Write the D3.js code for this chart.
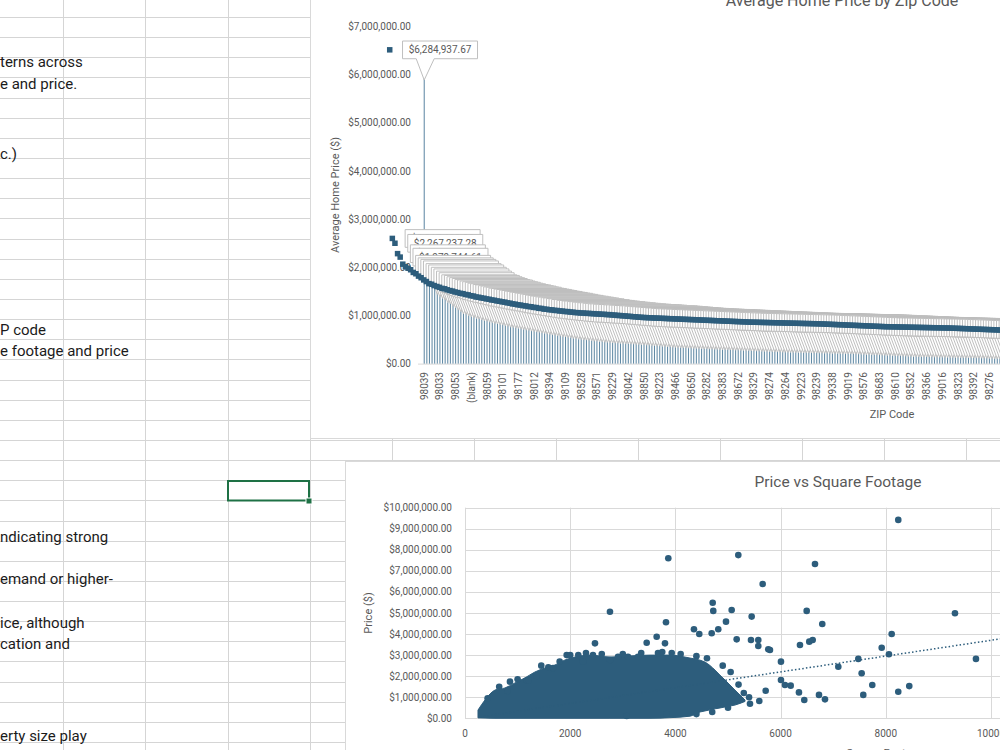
<!DOCTYPE html>
<html>
<head>
<meta charset="utf-8">
<script src="https://cdn.jsdelivr.net/npm/d3@7"></script>
<style>
  body { margin: 0; background: #fff; }
  svg { display: block; font-family: Roboto, "Liberation Sans", sans-serif; }
</style>
</head>
<body>
<div id="sheet"></div>
<script>
// ---- data ----
// worksheet text (left part of the cells is scrolled out of view)
const noteLines = ["terns across", "e and price.", "c.)", "P code", "e footage and price",
    "ndicating strong", "emand or higher-", "ice, although", "cation and", "erty size play"];

// chart 1: average price per ZIP, sorted descending; axis shows every 6th ZIP
const zipLabels = ["98039", "98033", "98053", "(blank)", "98059", "98101", "98177", "98012", "98394",
    "98109", "98528", "98571", "98229", "98042", "98850", "98223", "98466", "98650", "98282", "98383",
    "98672", "98329", "98274", "98264", "99223", "98239", "99338", "99019", "98576", "98683", "98610",
    "98532", "98366", "99016", "98323", "98392", "98276"];
const avgPrice = [6284937.67, 2367420, 2267237.28, 2051388, 1979744.61, 1832560, 1781211, 1749302, 1716845, 1661120,
    1633488, 1584933, 1551207, 1505630, 1471921, 1428775, 1416003, 1388563, 1369240, 1352118,
    1329906, 1321064, 1300118, 1284451, 1273388, 1254721, 1243097, 1226815, 1219544, 1203228,
    1194874, 1177655, 1170303, 1150876, 1145210, 1131659, 1124947, 1110504, 1103266, 1088819,
    1083034, 1068612, 1062459, 1049288, 1043932, 1028775, 1022146, 1007388, 1001573, 988113,
    983241, 970866, 965019, 952771, 948210, 935552, 930905, 916347, 912816, 899267,
    896310, 885606, 883127, 872933, 870201, 860745, 858320, 849045, 847278, 837914,
    836052, 826418, 825367, 818144, 817903, 811570, 811234, 804947, 804612, 798188,
    797842, 791557, 791233, 784945, 784319, 776905, 775317, 767887, 766403, 758918,
    757502, 749986, 748612, 741109, 739675, 732242, 730831, 724406, 723518, 719149,
    718860, 714233, 713905, 709388, 709128, 704690, 704215, 699958, 699524, 695208,
    694884, 690446, 690102, 685734, 685420, 681019, 680730, 676265, 675991, 671655,
    671229, 666917, 666503, 662241, 661838, 657512, 657204, 652841, 652527, 648180,
    647860, 643506, 643188, 638848, 638521, 634190, 633875, 629513, 629203, 626851,
    626520, 624107, 623791, 621431, 621058, 618712, 618356, 615990, 615627, 613282,
    612905, 610548, 610187, 607826, 607467, 605102, 604748, 602384, 602025, 599669,
    599302, 596945, 596582, 594220, 593854, 590469, 590121, 585779, 585416, 581068,
    580702, 576359, 576012, 571650, 571298, 566948, 566591, 562236, 561881, 557523,
    557169, 552815, 552458, 548102, 547751, 543397, 543038, 538684, 538330, 533976,
    533821, 531663, 531507, 529348, 529193, 527035, 526879, 524721, 524566, 522407,
    522252, 520094, 519938, 517780, 517625, 515466, 515311, 513153, 512998, 510839,
    510684, 508526, 508370, 506212, 506057, 503898, 501740, 499582, 497423, 495265,
    493107, 490948, 488790, 486632, 484474, 482315, 480157, 477999, 475840, 473682,
    471524, 469365, 467207, 465049, 462890, 460732];
const priceTicks1 = [0, 1e6, 2e6, 3e6, 4e6, 5e6, 6e6, 7e6];

// chart 2: price vs square footage
// the saturated core of the cloud (thousands of overlapping dots): sqft, lowest and highest price
const coreSqft = [247, 380, 570, 760, 950, 1141, 1331, 1521, 1711, 1901, 2091, 2376, 2756, 3137,
    3517, 3897, 4277, 4468, 4562, 4753, 4848, 4943, 5133, 5323];
const coreLow = [20000, 10000, 0, 0, 0, 0, 0, 0, 0, 0, 0, 0, 0, 0,
    0, 30000, 100000, 300000, 350000, 450000, 490000, 540000, 630000, 800000];
const coreHigh = [390000, 870000, 1340000, 1440000, 1680000, 1920000, 2200000, 2390000, 2530000, 2770000, 2910000, 3000000, 2910000, 2960000,
    3000000, 3000000, 2860000, 2760000, 2670000, 2290000, 2050000, 1820000, 1340000, 870000];
// individual dots outside the core
const dotSqft = [811, 855, 1173, 1210, 1363, 1584, 1673, 1933, 2154, 2243, 2433, 2471, 2756, 2756, 2909,
    3099, 3289, 3454, 3644, 3669, 3802, 3821, 3865, 3930, 3074, 3834,
    5196, 6654, 8237, 5659, 4709, 4720, 5070, 5450, 6496, 6792, 4962, 4815, 4353, 4454, 4690,
    5165, 5437, 5576, 5576, 5766, 5798, 6368, 6545, 6610, 8112, 9315, 7922, 8060, 7477, 9714,
    7097, 7541, 6007, 6007, 6083, 6192, 6349, 6450, 6730, 6844, 7743, 7572, 8237, 8446, 5716, 5595, 5418,
    430, 650, 1000, 1450, 1800, 2000, 2300, 2600, 3000, 3350, 3750, 4100, 4400, 4600, 4900, 5050,
    5200, 5300, 5400, 4700, 5000, 4400];
const dotPrice = [1300000, 1740000, 1790000, 1800000, 2010000, 2420000, 2390000, 3000000, 3000000, 2690000, 3000000, 3560000, 5060000, 2770000, 2920000,
    2920000, 2920000, 3590000, 3870000, 3100000, 3560000, 4560000, 7600000, 3100000, 110000, 200000,
    7750000, 7330000, 9420000, 6380000, 5490000, 5100000, 5140000, 4830000, 5100000, 4480000, 4590000, 4230000, 4230000, 4000000, 4040000,
    3750000, 3720000, 3720000, 3430000, 3280000, 3240000, 3480000, 3640000, 3720000, 4000000, 4990000, 3350000, 3040000, 2820000, 2820000,
    2450000, 2140000, 2690000, 1820000, 1580000, 1550000, 1230000, 870000, 1110000, 900000, 1580000, 1110000, 1260000, 1530000, 1310000, 820000, 690000,
    950000, 1500000, 1850000, 2500000, 2700000, 3000000, 3100000, 3050000, 3050000, 3100000, 3150000, 3050000, 2950000, 2850000, 2500000, 2200000,
    1600000, 1200000, 1000000, 300000, 500000, 200000];
// linear trendline
const trendSlope = 375, trendIntercept = -46000, trendFrom = 290, trendTo = 13540;
const priceTicks2 = d3.range(0, 1e7 + 1, 1e6);
const sqftTicks = [0, 2000, 4000, 6000, 8000, 10000, 12000];

// ---- layout ----
const W = 1000, H = 750;
const GRID = '#d5d5d5';
const BORDER = '#d9d9d9';
const AXIS_TEXT = '#595959';
const BLUE = '#2d5d7c';
const BAR_BLUE = '#3a6d8f';
const colX = d3.range(12).map(k => 63.3 + 82.1 * k);
const rowY = d3.range(38).map(k => 17 + 20.14 * k);
const noteY = [62, 83.5, 154, 330, 351, 537, 579, 622.5, 644, 736];

const svg = d3.select("#sheet").append("svg")
    .attr("width", W)
    .attr("height", H);

// worksheet grid
svg.append("g").selectAll("line").data(rowY).enter().append("line")
    .attr("x1", 0).attr("x2", W)
    .attr("y1", d => Math.round(d) + 0.5).attr("y2", d => Math.round(d) + 0.5)
    .attr("stroke", GRID);
svg.append("g").selectAll("line").data(colX).enter().append("line")
    .attr("x1", d => Math.round(d) + 0.5).attr("x2", d => Math.round(d) + 0.5)
    .attr("y1", 0).attr("y2", H)
    .attr("stroke", GRID);

svg.append("g").selectAll("text").data(noteLines).enter().append("text")
    .attr("x", 0)
    .attr("y", (d, i) => noteY[i] + 5.2)
    .style("font-size", "15px")
    .style("fill", "#1b1b1b")
    .text(d => d);

// selected cell
svg.append("rect")
    .attr("x", 228).attr("y", 481)
    .attr("width", 81).attr("height", 19.5)
    .attr("fill", "none").attr("stroke", "#1e7145").attr("stroke-width", 2);
svg.append("rect")
    .attr("x", 306).attr("y", 498)
    .attr("width", 6).attr("height", 6)
    .attr("fill", "#1e7145").attr("stroke", "#fff").attr("stroke-width", 1);

// ================= chart 1: Average Home Price by Zip Code =================
svg.append("rect")
    .attr("x", 310.5).attr("y", -5)
    .attr("width", 720).attr("height", 443.5)
    .attr("fill", "#fff").attr("stroke", BORDER);

let c1 = svg.append("g");
const step1 = 2.61;
let x1 = d3.scaleBand()
    .domain(d3.range(avgPrice.length))
    .range([425 - step1 / 2, 425 - step1 / 2 + step1 * avgPrice.length])
    .paddingInner(0.6);
let y1 = d3.scaleLinear()
    .domain([0, 7e6])
    .range([363.6, 26.6]);
const cx1 = i => x1(i) + x1.bandwidth() / 2;

c1.append("text")
    .attr("x", 842).attr("y", 6)
    .style("text-anchor", "middle")
    .style("font-size", "16px")
    .style("fill", AXIS_TEXT)
    .text("Average Home Price by Zip Code");

c1.append("g").selectAll("text").data(priceTicks1).enter().append("text")
    .attr("x", 411)
    .attr("y", d => y1(d))
    .attr("dy", "0.35em")
    .style("text-anchor", "end")
    .style("font-size", "10px")
    .style("fill", AXIS_TEXT)
    .text(d => d3.format("$,.2f")(d));

c1.append("text")
    .attr("transform", `translate(335, 195) rotate(-90)`)
    .attr("dy", "0.35em")
    .style("text-anchor", "middle")
    .style("font-size", "11px")
    .style("fill", AXIS_TEXT)
    .text("Average Home Price ($)");

c1.append("line")
    .attr("x1", 418).attr("x2", W)
    .attr("y1", y1(0) + 0.5).attr("y2", y1(0) + 0.5)
    .attr("stroke", BORDER);

c1.append("g").selectAll("rect").data(avgPrice).enter().append("rect")
    .attr("x", (d, i) => x1(i))
    .attr("width", x1.bandwidth())
    .attr("y", d => y1(d))
    .attr("height", d => y1(0) - y1(d))
    .attr("fill", BAR_BLUE)
    .attr("opacity", 0.8);

// data callouts with legend keys
let callouts = c1.append("g").selectAll("g").data(avgPrice).enter().append("g");
callouts.append("path")
    .attr("d", (d, i) => {
        let cx = cx1(i), vy = y1(d);
        let L = cx - 21.7, R = cx + 53.3, T = vy - 20, B = vy - 2.3;
        return `M${L},${T}H${R}V${B}H${cx + 10}L${cx},${vy + 19}L${cx - 8},${B}H${L}Z`;
    })
    .attr("fill", "#fff")
    .attr("stroke", "#bfbfbf")
    .attr("stroke-width", 1);
callouts.append("text")
    .attr("x", (d, i) => cx1(i) + 15.8)
    .attr("y", d => y1(d) - 11.2)
    .attr("dy", "0.35em")
    .style("text-anchor", "middle")
    .style("font-size", "10px")
    .style("fill", AXIS_TEXT)
    .text(d => d3.format("$,.2f")(d));
callouts.append("rect")
    .attr("x", (d, i) => cx1(i) - 21.7 - 12.8 - 2.75)
    .attr("y", d => y1(d) - 11.2 - 2.75)
    .attr("width", 5.5).attr("height", 5.5)
    .attr("fill", BLUE);

c1.append("g").selectAll("text").data(zipLabels).enter().append("text")
    .attr("transform", (d, k) => `translate(${cx1(k * 6)}, 372) rotate(-90)`)
    .attr("dy", "0.35em")
    .style("text-anchor", "end")
    .style("font-size", "10px")
    .style("fill", AXIS_TEXT)
    .text(d => d);

c1.append("text")
    .attr("x", 892).attr("y", 414)
    .attr("dy", "0.35em")
    .style("text-anchor", "middle")
    .style("font-size", "11px")
    .style("fill", AXIS_TEXT)
    .text("ZIP Code");

// ================= chart 2: Price vs Square Footage =================
svg.append("rect")
    .attr("x", 345.5).attr("y", 461.5)
    .attr("width", 700).attr("height", 320)
    .attr("fill", "#fff").attr("stroke", BORDER);

let c2 = svg.append("g");
let x2 = d3.scaleLinear()
    .domain([0, 12000])
    .range([465, 465 + 526 * 1.2]);
let y2 = d3.scaleLinear()
    .domain([0, 1e7])
    .range([718.3, 507.7]);

c2.append("text")
    .attr("x", 838).attr("y", 482)
    .attr("dy", "0.35em")
    .style("text-anchor", "middle")
    .style("font-size", "15.5px")
    .style("fill", AXIS_TEXT)
    .text("Price vs Square Footage");

c2.append("g").selectAll("line").data(priceTicks2).enter().append("line")
    .attr("x1", x2(0)).attr("x2", x2(12000))
    .attr("y1", d => Math.round(y2(d)) + 0.5).attr("y2", d => Math.round(y2(d)) + 0.5)
    .attr("stroke", BORDER);
c2.append("g").selectAll("line").data(sqftTicks).enter().append("line")
    .attr("x1", d => Math.round(x2(d)) + 0.5).attr("x2", d => Math.round(x2(d)) + 0.5)
    .attr("y1", y2(1e7)).attr("y2", y2(0))
    .attr("stroke", BORDER);

c2.append("g").selectAll("text").data(priceTicks2).enter().append("text")
    .attr("x", 452)
    .attr("y", d => y2(d))
    .attr("dy", "0.35em")
    .style("text-anchor", "end")
    .style("font-size", "10px")
    .style("fill", AXIS_TEXT)
    .text(d => d3.format("$,.2f")(d));
c2.append("g").selectAll("text").data(sqftTicks).enter().append("text")
    .attr("x", d => x2(d))
    .attr("y", 733.5)
    .attr("dy", "0.35em")
    .style("text-anchor", "middle")
    .style("font-size", "10px")
    .style("fill", AXIS_TEXT)
    .text(d => d);

c2.append("text")
    .attr("transform", `translate(368, 613) rotate(-90)`)
    .attr("dy", "0.35em")
    .style("text-anchor", "middle")
    .style("font-size", "11px")
    .style("fill", AXIS_TEXT)
    .text("Price ($)");
c2.append("text")
    .attr("x", 885).attr("y", 753)
    .attr("dy", "0.35em")
    .style("text-anchor", "middle")
    .style("font-size", "11px")
    .style("fill", AXIS_TEXT)
    .text("Square Footage");

let core = coreSqft.map((s, i) => ({s: s, lo: coreLow[i], hi: coreHigh[i]}));
c2.append("path")
    .datum(core)
    .attr("d", d3.area().x(d => x2(d.s)).y0(d => y2(d.lo)).y1(d => y2(d.hi)).curve(d3.curveMonotoneX))
    .attr("fill", BLUE)
    .attr("stroke", BLUE)
    .attr("stroke-width", 1)
    .attr("stroke-linejoin", "round");

c2.append("g").selectAll("circle").data(dotSqft).enter().append("circle")
    .attr("cx", d => x2(d))
    .attr("cy", (d, i) => y2(dotPrice[i]))
    .attr("r", 3.3)
    .attr("fill", BLUE);

c2.append("line")
    .attr("x1", x2(trendFrom)).attr("y1", y2(trendSlope * trendFrom + trendIntercept))
    .attr("x2", x2(trendTo)).attr("y2", y2(trendSlope * trendTo + trendIntercept))
    .attr("stroke", BLUE)
    .attr("stroke-width", 1.5)
    .attr("stroke-dasharray", "1.5,2.2");
</script>
</body>
</html>
